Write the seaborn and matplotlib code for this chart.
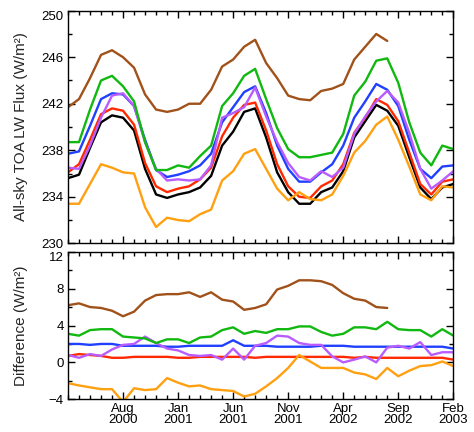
import numpy as np
import pandas as pd
import matplotlib
matplotlib.use("Agg")
import matplotlib.pyplot as plt
from matplotlib.ticker import FixedLocator, MultipleLocator
import seaborn as sns

# ---------------- data ----------------
months = pd.date_range("2000-03-01", periods=36, freq="MS")
month_idx = list(range(36))
tick_labels = ["Aug\n2000", "Jan\n2001", "Jun\n2001", "Nov\n2001",
               "Apr\n2002", "Sep\n2002", "Feb\n2003"]
tick_dates = ["2000-08", "2001-01", "2001-06", "2001-11", "2002-04", "2002-09", "2003-02"]
top_yticks = [230, 234, 238, 242, 246, 250]
bot_yticks = [-4, 0, 4, 8, 12]

black = [235.6, 235.9, 238.2, 240.4, 241.0, 240.8, 239.7, 236.4, 234.2, 233.9, 234.2, 234.4,
         234.8, 235.8, 238.4, 239.6, 241.3, 241.6, 239.1, 236.1, 234.4, 233.4, 233.4, 234.4,
         234.8, 236.2, 239.1, 240.5, 241.9, 241.4, 240.1, 237.4, 234.8, 233.8, 234.8, 235.1]
red = [236.1, 236.8, 238.9, 241.1, 241.6, 241.4, 240.2, 236.9, 234.9, 234.4, 234.7, 234.9,
       235.5, 236.5, 239.2, 240.8, 241.9, 242.1, 239.7, 236.8, 234.9, 234.0, 233.9, 234.9,
       235.4, 236.8, 239.5, 240.8, 242.4, 241.9, 240.5, 237.8, 235.1, 234.2, 235.3, 235.5]
blue = [237.7, 237.9, 240.1, 242.4, 242.9, 242.8, 241.8, 238.9, 236.3, 235.7, 235.9, 236.2,
        236.7, 237.7, 240.4, 241.7, 243.0, 243.5, 241.2, 238.4, 236.4, 235.3, 235.3, 236.1,
        236.8, 238.4, 240.8, 242.2, 243.7, 243.2, 241.8, 238.9, 236.4, 235.6, 236.6, 236.7]
purple = [236.5, 236.4, 238.4, 240.8, 242.7, 242.9, 241.8, 238.7, 236.4, 235.4, 235.5, 235.4,
          235.5, 236.7, 240.8, 241.2, 241.7, 243.4, 240.9, 238.7, 236.9, 235.7, 235.4, 236.2,
          235.7, 236.5, 239.4, 240.9, 242.2, 243.1, 242.1, 239.5, 236.4, 234.7, 235.4, 236.2]
green = [238.7, 238.7, 241.5, 244.0, 244.4, 243.5, 242.2, 238.7, 236.3, 236.3, 236.7, 236.5,
         237.5, 238.4, 241.8, 242.9, 244.4, 245.0, 242.4, 239.9, 238.1, 237.4, 237.4, 237.6,
         237.8, 239.4, 242.7, 243.9, 245.7, 245.9, 243.8, 240.4, 237.8, 236.7, 238.4, 238.1]
brown = [241.7, 242.4, 244.2, 246.2, 246.6, 246.0, 245.1, 242.8, 241.5, 241.3, 241.5, 242.0,
         242.0, 243.2, 245.2, 245.8, 246.9, 247.5, 245.5, 244.2, 242.7, 242.4, 242.3, 243.1,
         243.3, 243.7, 245.8, 246.9, 248.0, 247.4]
orange = [233.4, 233.4, 235.1, 236.8, 236.5, 236.1, 236.0, 233.1, 231.4, 232.2, 232.0, 231.9,
          232.5, 232.9, 235.4, 236.2, 237.7, 238.1, 236.4, 234.7, 233.7, 234.4, 233.8, 233.7,
          234.2, 235.8, 237.8, 238.8, 240.2, 240.9, 238.9, 236.6, 234.2, 233.7, 234.9, 234.8]

d_brown = [6.2, 6.4, 6.0, 5.9, 5.6, 5.0, 5.5, 6.7, 7.3, 7.4, 7.4, 7.6, 7.1, 7.6, 6.8, 6.6,
           5.7, 5.9, 6.3, 7.9, 8.3, 8.9, 8.9, 8.8, 8.4, 7.5, 6.9, 6.7, 6.0, 5.9]
d_green = [3.1, 2.9, 3.5, 3.6, 3.6, 2.8, 2.7, 2.6, 2.1, 2.5, 2.5, 2.1, 2.7, 2.8, 3.5, 3.8,
           3.1, 3.4, 3.2, 3.6, 3.6, 3.9, 3.9, 3.3, 2.9, 3.1, 3.8, 3.8, 3.6, 4.4, 3.6, 3.5,
           3.5, 2.8, 3.6, 2.9]
d_blue = [2.0, 2.0, 1.9, 2.0, 2.0, 1.8, 1.8, 1.8, 1.8, 1.7, 1.7, 1.8, 1.8, 1.8, 1.8, 2.4,
          1.8, 1.8, 1.8, 1.7, 1.7, 1.7, 1.7, 1.8, 1.8, 1.8, 1.7, 1.7, 1.7, 1.7, 1.7, 1.7,
          1.7, 1.7, 1.7, 1.5]
d_red = [0.7, 0.9, 0.8, 0.7, 0.5, 0.5, 0.6, 0.6, 0.6, 0.6, 0.5, 0.5, 0.6, 0.6, 0.6, 0.6,
         0.6, 0.5, 0.6, 0.6, 0.6, 0.6, 0.6, 0.6, 0.6, 0.6, 0.5, 0.6, 0.5, 0.5, 0.5, 0.5,
         0.5, 0.5, 0.5, 0.3]
d_purple = [0.8, 0.5, 0.9, 0.7, 1.4, 1.9, 2.0, 2.8, 2.1, 1.5, 1.3, 0.8, 0.7, 0.8, 0.3, 1.5,
            0.3, 1.8, 2.1, 2.9, 2.8, 2.1, 1.9, 1.9, 0.65, 0.0, 0.3, 0.65, 0.0, 1.6, 1.8, 1.5,
            2.2, 0.8, 1.1, 1.1]
d_orange = [-2.25, -2.5, -2.7, -2.9, -2.9, -4.3, -2.8, -3.0, -2.9, -1.7, -2.2, -2.6, -2.5,
            -2.9, -3.0, -3.1, -3.7, -3.4, -2.6, -1.7, -0.6, 0.8, 0.1, -0.6, -0.6, -0.6, -1.1,
            -1.3, -1.8, -0.6, -1.5, -0.9, -0.4, -0.3, 0.1, -0.4]

colors = {"black": "#000000", "red": "#FF2A00", "blue": "#2040FF", "purple": "#B85CFF",
          "green": "#10B810", "brown": "#A0521A", "orange": "#FFA010"}

top_series = {"black": black, "red": red, "blue": blue, "purple": purple,
              "green": green, "brown": brown, "orange": orange}
bot_series = {"red": d_red, "blue": d_blue, "purple": d_purple,
              "green": d_green, "brown": d_brown, "orange": d_orange}


def long_df(series):
    rows = []
    for name, vals in series.items():
        for i, v in enumerate(vals):
            rows.append((month_idx[i], v, name))
    return pd.DataFrame(rows, columns=["month", "value", "series"])


# ---------------- style ----------------
sns.set_style("ticks")
plt.rcParams["font.family"] = ["Liberation Sans", "DejaVu Sans"]
plt.rcParams["axes.linewidth"] = 1.0

fig = plt.figure(figsize=(4.74, 4.32), dpi=100)
W, H = 474, 432
ax1 = fig.add_axes([68 / W, 1 - 243.3 / H, (453.3 - 68) / W, (243.3 - 10.7) / H])
ax2 = fig.add_axes([68 / W, 1 - 399.3 / H, (453.3 - 68) / W, (399.3 - 251.7) / H])

df_top = long_df(top_series)
df_bot = long_df(bot_series)
sns.lineplot(data=df_top, x="month", y="value", hue="series", palette=colors,
             hue_order=list(top_series.keys()), linewidth=1.7, legend=False, ax=ax1)
sns.lineplot(data=df_bot, x="month", y="value", hue="series", palette=colors,
             hue_order=list(bot_series.keys()), linewidth=1.7, legend=False, ax=ax2)

month_keys = [m.strftime("%Y-%m") for m in months]
tick_pos = [month_keys.index(t) for t in tick_dates]

for ax in (ax1, ax2):
    ax.set_xlim(month_idx[0], month_idx[-1])
    ax.xaxis.set_major_locator(FixedLocator(tick_pos))
    ax.xaxis.set_minor_locator(MultipleLocator(1))
    ax.yaxis.set_minor_locator(MultipleLocator(2))
    ax.tick_params(which="both", direction="in", top=True, right=True,
                   width=1.0, colors="black", labelsize=9.5)
    ax.tick_params(which="major", length=5.2, pad=3)
    ax.tick_params(which="minor", length=3)
    ax.set_xlabel("")
    for s in ax.spines.values():
        s.set_color("black")
        s.set_linewidth(1.0)

ax1.set_ylim(top_yticks[0], top_yticks[-1])
ax1.yaxis.set_major_locator(FixedLocator(top_yticks))
ax1.set_xticklabels([])
ax1.set_ylabel("All-sky TOA LW Flux (W/m²)", fontsize=11)

ax2.set_ylim(bot_yticks[0], bot_yticks[-1])
ax2.yaxis.set_major_locator(FixedLocator(bot_yticks))
ax2.set_xticklabels(tick_labels, linespacing=0.8)
ax2.tick_params(axis="x", which="major", pad=3)
ax2.set_ylabel("Difference (W/m²)", fontsize=11)

ax1.yaxis.set_label_coords(-0.105, 0.5)
ax2.yaxis.set_label_coords(-0.105, 0.5)

# like the original, the topmost y label of each panel sits just inside the frame
for ax in (ax1, ax2):
    ax.yaxis.get_major_ticks()[-1].label1.set_verticalalignment("top")

fig.savefig("out.png", dpi=100)
